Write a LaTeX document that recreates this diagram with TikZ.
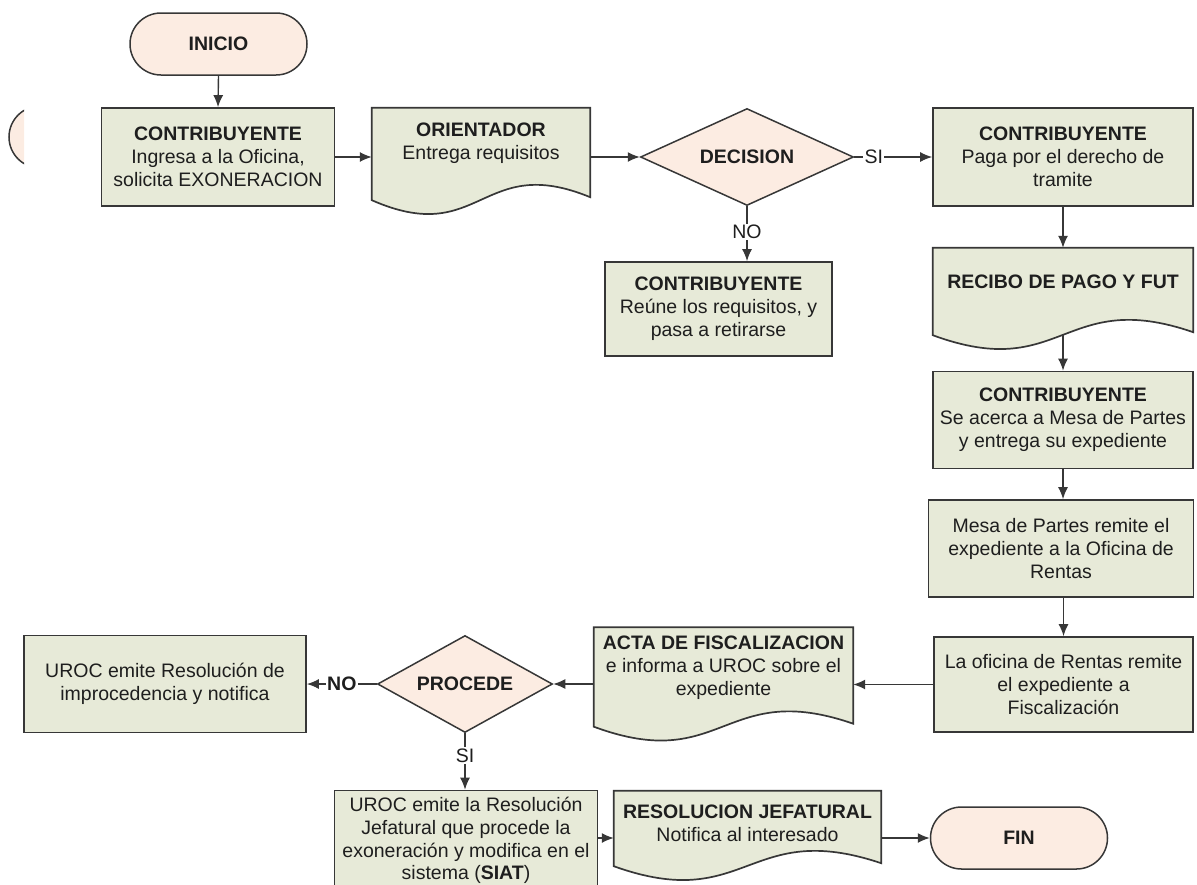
\documentclass[tikz,border=0pt]{standalone}
\usepackage{fontspec}
\setmainfont{Liberation Sans}
\usetikzlibrary{arrows.meta,shapes.geometric,calc}
\definecolor{boxfill}{RGB}{231,234,216}
\definecolor{pinkfill}{RGB}{252,236,226}
\definecolor{edgec}{RGB}{55,55,55}
\definecolor{txtc}{RGB}{30,30,30}
\newcommand\myfs{\fontsize{19.5}{22.8}\selectfont}
\newcommand\docoutline[1]{\draw[docst] (#1.south west) -- (#1.north west) -- (#1.north east) -- ($(#1.south east)+(0,-3)$) .. controls ($(#1.south)+(0,-48)$) and ($(#1.south)+(0,48)$) .. (#1.south west) -- cycle;}
\tikzset{
  proc/.style={rectangle, draw=edgec, line width=1.7pt, fill=boxfill, inner sep=0pt, align=center, font=\myfs, text=txtc},
  term/.style={rectangle, rounded corners=31pt, draw=edgec, line width=1.5pt, fill=pinkfill, inner sep=0pt, align=center, font=\myfs\bfseries, text=txtc, minimum width=177pt, minimum height=62pt},
  dec/.style={diamond, aspect=2.2, draw=edgec, line width=1.5pt, fill=pinkfill, inner sep=0pt, align=center, font=\myfs\bfseries, text=txtc},
  docbox/.style={rectangle, draw=none, inner sep=0pt},
  docst/.style={draw=edgec, line width=1.7pt, fill=boxfill},
  doctxt/.style={inner sep=0pt, align=center, font=\myfs, text=txtc},
  conn/.style={draw=edgec, line width=1.4pt, -{Latex[length=12pt,width=10pt]}},
  lbl/.style={fill=white, inner sep=1.5pt, font=\myfs, text=txtc},
}
\begin{document}
\begin{tikzpicture}[x=1pt,y=-1pt]
\useasboundingbox (0,0) rectangle (1197,884);
\clip (0,0) rectangle (1197,884);

% partial terminal at the left edge
\begin{scope}
  \clip (0,0) rectangle (24,884);
  \node[term] (ghost) at (97.5,137) {};
\end{scope}

% top row
\node[term] (inicio) at (218.5,44) {INICIO};
\node[proc, minimum width=233pt, minimum height=98pt] (c1) at (218,157)
  {\textbf{CONTRIBUYENTE}\\Ingresa a la Oficina,\\solicita EXONERACION};

\node[docbox, minimum width=218pt, minimum height=92pt] (orient) at (481,154) {};
\docoutline{orient}
\node[doctxt] (orientT) at (481,143) {\textbf{ORIENTADOR}\\Entrega requisitos};

\node[dec, minimum width=213pt, minimum height=97pt] (decision) at (747,157) {DECISION};

\node[proc, minimum width=260pt, minimum height=98pt] (paga) at (1063,157)
  {\textbf{CONTRIBUYENTE}\\Paga por el derecho de\\tramite};

\node[proc, minimum width=227pt, minimum height=94pt] (reune) at (718.5,309)
  {\textbf{CONTRIBUYENTE}\\Reúne los requisitos, y\\pasa a retirarse};

% right column
\node[docbox, minimum width=260pt, minimum height=87pt] (recibo) at (1063,291.5) {};
\docoutline{recibo}
\node[doctxt] (reciboT) at (1063,282) {\textbf{RECIBO DE PAGO Y FUT}};

\node[proc, minimum width=260pt, minimum height=97pt] (acerca) at (1063,420)
  {\textbf{CONTRIBUYENTE}\\Se acerca a Mesa de Partes\\y entrega su expediente};

\node[proc, minimum width=265pt, minimum height=97pt] (mesa) at (1061,548.5)
  {Mesa de Partes remite el\\expediente a la Oficina de\\Rentas};

\node[proc, minimum width=259pt, minimum height=95pt] (oficina) at (1063.5,684.5)
  {La oficina de Rentas remite\\el expediente a\\Fiscalización};

% lower rows
\node[docbox, minimum width=259pt, minimum height=99pt] (acta) at (723.5,677) {};
\docoutline{acta}
\node[doctxt] (actaT) at (723.5,668) {\textbf{ACTA DE FISCALIZACION}\\e informa a UROC sobre el\\expediente};

\node[dec, minimum width=175pt, minimum height=97pt] (procede) at (465,684) {PROCEDE};

\node[proc, minimum width=282pt, minimum height=97pt] (urocI) at (165,684)
  {UROC emite Resolución de\\improcedencia y notifica};

\node[proc, minimum width=263pt, minimum height=100pt] (urocJ) at (466,840.5)
  {UROC emite la Resolución\\Jefatural que procede la\\exoneración y modifica en el\\sistema (\textbf{SIAT})};

\node[docbox, minimum width=267pt, minimum height=75pt] (resol) at (747.5,828.5) {};
\docoutline{resol}
\node[doctxt] (resolT) at (747.5,823.5) {\textbf{RESOLUCION JEFATURAL}\\Notifica al interesado};

\node[term] (fin) at (1019,838) {FIN};

% connectors
\draw[conn] (inicio.south) -- (c1.north);
\draw[conn] (c1.east) -- (c1.east -| orient.west);
\draw[conn] (decision.west -| orient.east) -- (decision.west);
\draw[conn] (decision.east) -- node[lbl, pos=0.25] (siA) {SI} (paga.west);
\draw[conn] (decision.south) -- node[lbl, pos=0.47] (noA) {NO} (decision.south |- reune.north);
\draw[conn] (paga.south) -- (recibo.north);
\draw[conn] (recibo.south) -- (acerca.north);
\draw[conn] (acerca.south) -- (acerca.south |- mesa.north);
\draw[conn] (mesa.south -| oficina.north) -- (oficina.north);
\draw[conn] (oficina.west) -- (oficina.west -| acta.east);
\draw[conn] (procede.east -| acta.west) -- (procede.east);
\draw[conn] (procede.west) -- node[lbl, pos=0.5, font=\myfs\bfseries] (noB) {NO} (urocI.east);
\draw[conn] (procede.south) -- node[lbl, pos=0.4] (siB) {SI} (procede.south |- urocJ.north);
\draw[conn] (fin.west -| urocJ.east) -- (fin.west -| resol.west);
\draw[conn] (fin.west -| resol.east) -- (fin.west);
\end{tikzpicture}
\end{document}
